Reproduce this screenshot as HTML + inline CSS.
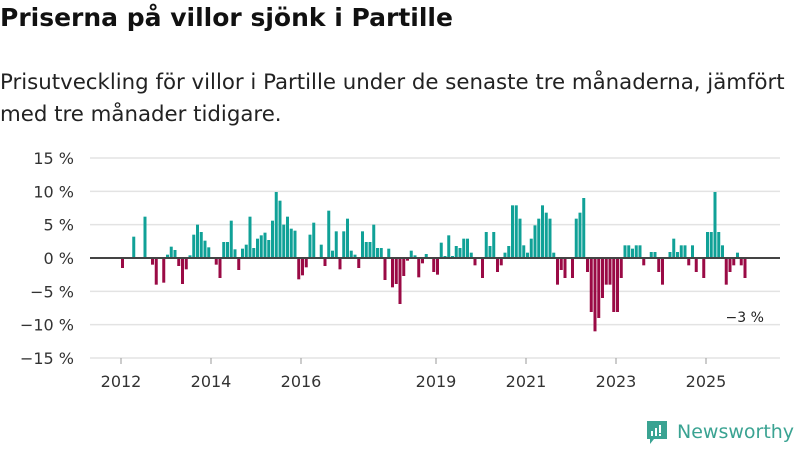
<!DOCTYPE html>
<html><head><meta charset="utf-8"><style>
body{margin:0;width:800px;height:450px;background:#fff;font-family:"DejaVu Sans","Liberation Sans",sans-serif;overflow:hidden;position:relative}
h1{position:absolute;left:0;top:3px;margin:0;font-size:25px;font-weight:bold;color:#111;white-space:nowrap}
.sub{position:absolute;left:0;top:67px;margin:0;font-size:21.3px;line-height:32px;color:#222;width:800px;white-space:nowrap}
svg{position:absolute;left:0;top:0}
</style></head><body>
<h1>Priserna på villor sjönk i Partille</h1>
<p class="sub">Prisutveckling för villor i Partille under de senaste tre månaderna, jämfört<br>med tre månader tidigare.</p>
<svg id="chart" width="800" height="450"></svg>
<script>
const values=[-1.5,0,0,3.2,0,0,6.2,0,-1,-4,0,-3.7,0.5,1.7,1.2,-1.2,-3.9,-1.7,0.4,3.5,5,3.9,2.6,1.6,0,-1,-3,2.4,2.4,5.6,1.3,-1.8,1.4,2,6.2,1.5,2.9,3.4,3.8,2.7,5.6,9.9,8.6,5,6.2,4.4,4.1,-3.2,-2.6,-1.4,3.5,5.3,0,2,-1.2,7.1,1.1,4,-1.7,4,5.9,1.1,0.5,-1.5,4,2.4,2.4,5,1.5,1.5,-3.3,1.4,-4.4,-3.9,-6.9,-2.7,-0.4,1.1,0.4,-2.9,-0.8,0.6,0,-2.1,-2.5,2.3,0.3,3.4,0.3,1.8,1.5,2.9,2.9,0.8,-1.1,0,-3,3.9,1.8,3.9,-2.1,-1.1,0.8,1.8,7.9,7.9,5.9,1.9,0.8,2.9,4.9,5.9,7.9,6.8,5.9,0.8,-4,-1.8,-3,0,-3,5.9,6.8,9,-2.1,-8.1,-11,-9,-6,-4,-4,-8.1,-8.1,-3,1.9,1.9,1.4,1.9,1.9,-1.1,0,0.9,0.9,-2.1,-4,0,0.9,2.9,0.9,1.9,1.9,-1.1,1.9,-2.1,0,-3,3.9,3.9,9.9,3.9,1.9,-4,-2.1,-1.1,0.8,-1.1,-3];
const startYear=2012;
const yTicks=[15,10,5,0,-5,-10,-15];
const yTickLabels=["15 %","10 %","5 %","0 %","−5 %","−10 %","−15 %"];
const xTickYears=[2012,2014,2016,2019,2021,2023,2025];
const lastLabel="−3 %";
const NS="http://www.w3.org/2000/svg";
const svg=document.getElementById('chart');
const x0=121,pm=3.75,yZero=258,pp=200/30;
const FF='DejaVu Sans,Liberation Sans,sans-serif';
const xScale=i=>x0+i*pm;
const yScale=v=>yZero-v*pp;
function el(t,a){const e=document.createElementNS(NS,t);for(const k in a)e.setAttribute(k,a[k]);svg.appendChild(e);return e;}
yTicks.forEach((t,k)=>{
  if(t!==0){const g=el('line',{x1:90,x2:780,y1:yScale(t),y2:yScale(t),stroke:'#e3e3e3','stroke-width':1.5});
  
  }
  const l=el('text',{x:74,y:yScale(t)+6,'text-anchor':'end','font-size':16,fill:'#333','font-family':FF});
  l.textContent=yTickLabels[k];
  
  
});
values.forEach((v,i)=>{
  if(v===0)return;
  const y=v>0?yScale(v):yZero;
  const b=el('rect',{x:xScale(i),y:y,width:3,height:Math.abs(v)*pp,fill:v>0?'#10a197':'#9a0a45'});
  
  
});
const z=el('line',{x1:90,x2:780,y1:yZero,y2:yZero,stroke:'#444','stroke-width':2});


xTickYears.forEach(yr=>{
  const x=xScale((yr-startYear)*12);
  const t=el('line',{x1:x,x2:x,y1:358,y2:364,stroke:'#999','stroke-width':1});
  
  
  const l=el('text',{x:x,y:387,'text-anchor':'middle','font-size':16,fill:'#333','font-family':FF});
  l.textContent=yr;
  
  
});
const li=values.length-1;
const ll=el('text',{x:xScale(li)-18,y:yScale(values[li])+44,'font-size':14,fill:'#222','font-family':FF});
ll.textContent=lastLabel;


</script>
<div style="position:absolute;left:645px;top:419px;display:flex;align-items:center">
<svg width="24" height="26" viewBox="0 0 24 26" style="position:static"><path d="M2 2h20v18H9l-4 5v-5H2z" fill="#3aa392"/><rect x="6" y="12" width="2" height="5" fill="#fff"/><rect x="10" y="9" width="2" height="8" fill="#fff"/><rect x="14" y="6" width="2" height="8" fill="#fff"/><rect x="14" y="15" width="2" height="2" fill="#fff"/></svg>
<span style="font-size:19px;color:#3aa392;margin-left:8px">Newsworthy</span></div>
</body></html>
